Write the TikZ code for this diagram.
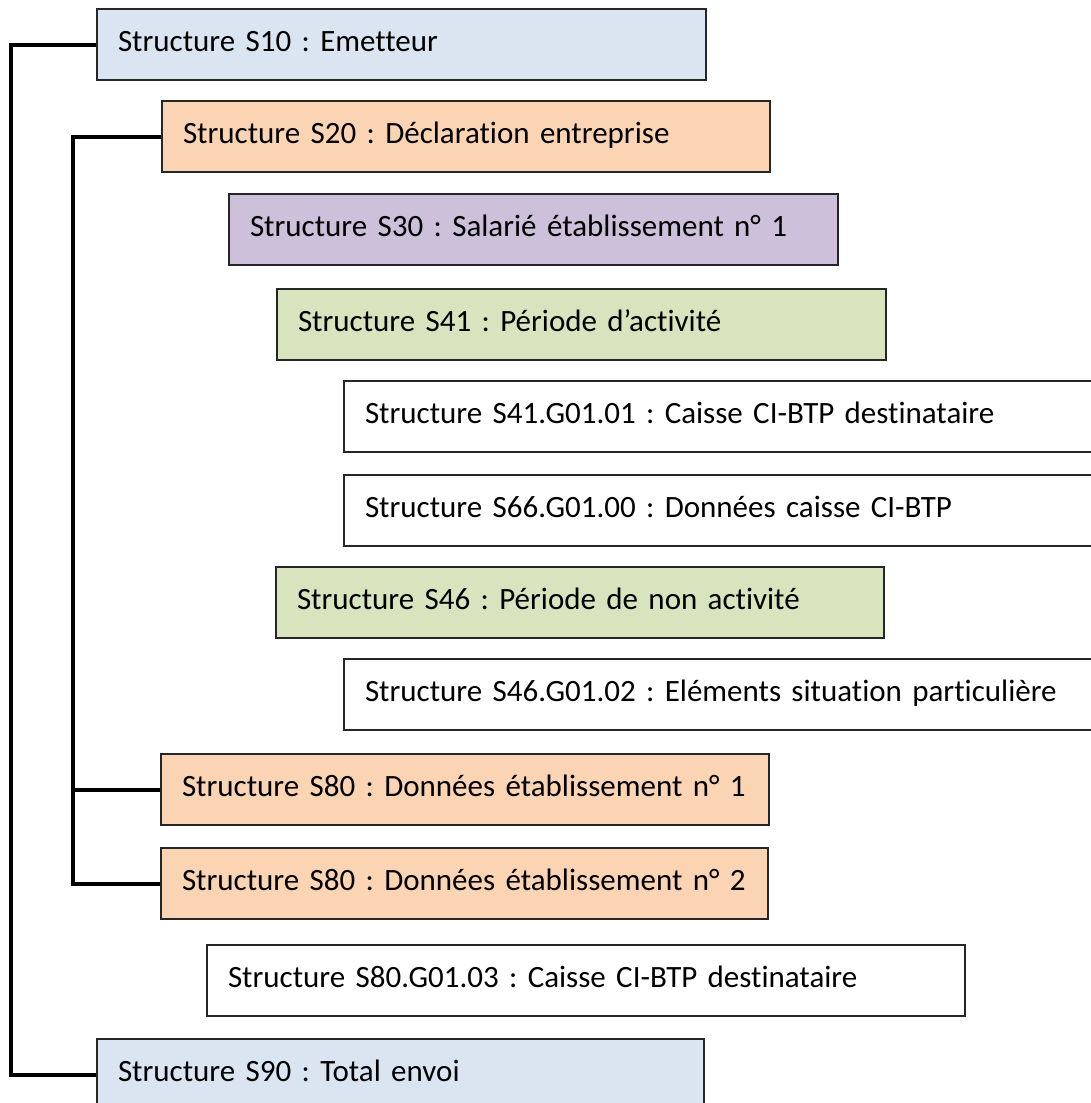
\documentclass[tikz,border=0pt]{standalone}
\usepackage{fontspec}
\setmainfont{Carlito}[Ligatures=NoCommon]
\frenchspacing
\definecolor{bluebox}{HTML}{DBE5F1}
\definecolor{orangebox}{HTML}{FBD4B4}
\definecolor{purplebox}{HTML}{CCC0DA}
\definecolor{greenbox}{HTML}{D7E4BD}
\tikzset{
  struct/.style={draw=black!85, line width=1pt, rectangle, anchor=north west,
    minimum height=35.5pt, inner xsep=10.5pt, inner ysep=0pt,
    text height=21pt, text depth=14.5pt, font=\fontsize{15.5pt}{18pt}\selectfont},
  link/.style={line width=2pt}
}
\begin{document}
\begin{tikzpicture}[x=0.5pt, y=-0.5pt]
  \useasboundingbox (0,0) rectangle (1091,1103);

  \node[struct, fill=bluebox, text width=283.5pt] (s10) at (96,8) {Structure S10 : Emetteur};
  \node[struct, fill=orangebox, text width=283pt] (s20) at (161,100) {Structure S20 : Déclaration entreprise};
  \node[struct, fill=purplebox, text width=283.5pt] (s30) at (228,193) {Structure S30 : Salarié établissement n° 1};
  \node[struct, fill=greenbox, text width=283.5pt] (s41) at (276,288) {Structure S41 : Période d’activité};
  \node[struct, fill=white, text width=379pt] (s41g) at (343,380) {Structure S41.G01.01 : Caisse CI-BTP destinataire};
  \node[struct, fill=white, text width=379pt] (s66g) at (343,474) {Structure S66.G01.00 : Données caisse CI-BTP};
  \node[struct, fill=greenbox, text width=283pt] (s46) at (275,566) {Structure S46 : Période de non activité};
  \node[struct, fill=white, text width=379pt] (s46g) at (343,658) {Structure S46.G01.02 : Eléments situation particulière};
  \node[struct, fill=orangebox, text width=283pt] (s80a) at (160,753) {Structure S80 : Données établissement n° 1};
  \node[struct, fill=orangebox, text width=282.5pt] (s80b) at (160,847) {Structure S80 : Données établissement n° 2};
  \node[struct, fill=white, text width=358pt] (s80g) at (206,944) {Structure S80.G01.03 : Caisse CI-BTP destinataire};
  \node[struct, fill=bluebox, text width=282.5pt] (s90) at (96,1038) {Structure S90 : Total envoi};

  % brackets on the left
  \coordinate (outer) at (11,0);
  \coordinate (inner) at (73,0);
  \draw[link] (s10.west) -- (s10.west -| outer) |- (s90.west);
  \draw[link] (s20.west) -- (s20.west -| inner) |- (s80b.west);
  \draw[link] (s80a.west) -- (s80a.west -| inner);
\end{tikzpicture}
\end{document}
